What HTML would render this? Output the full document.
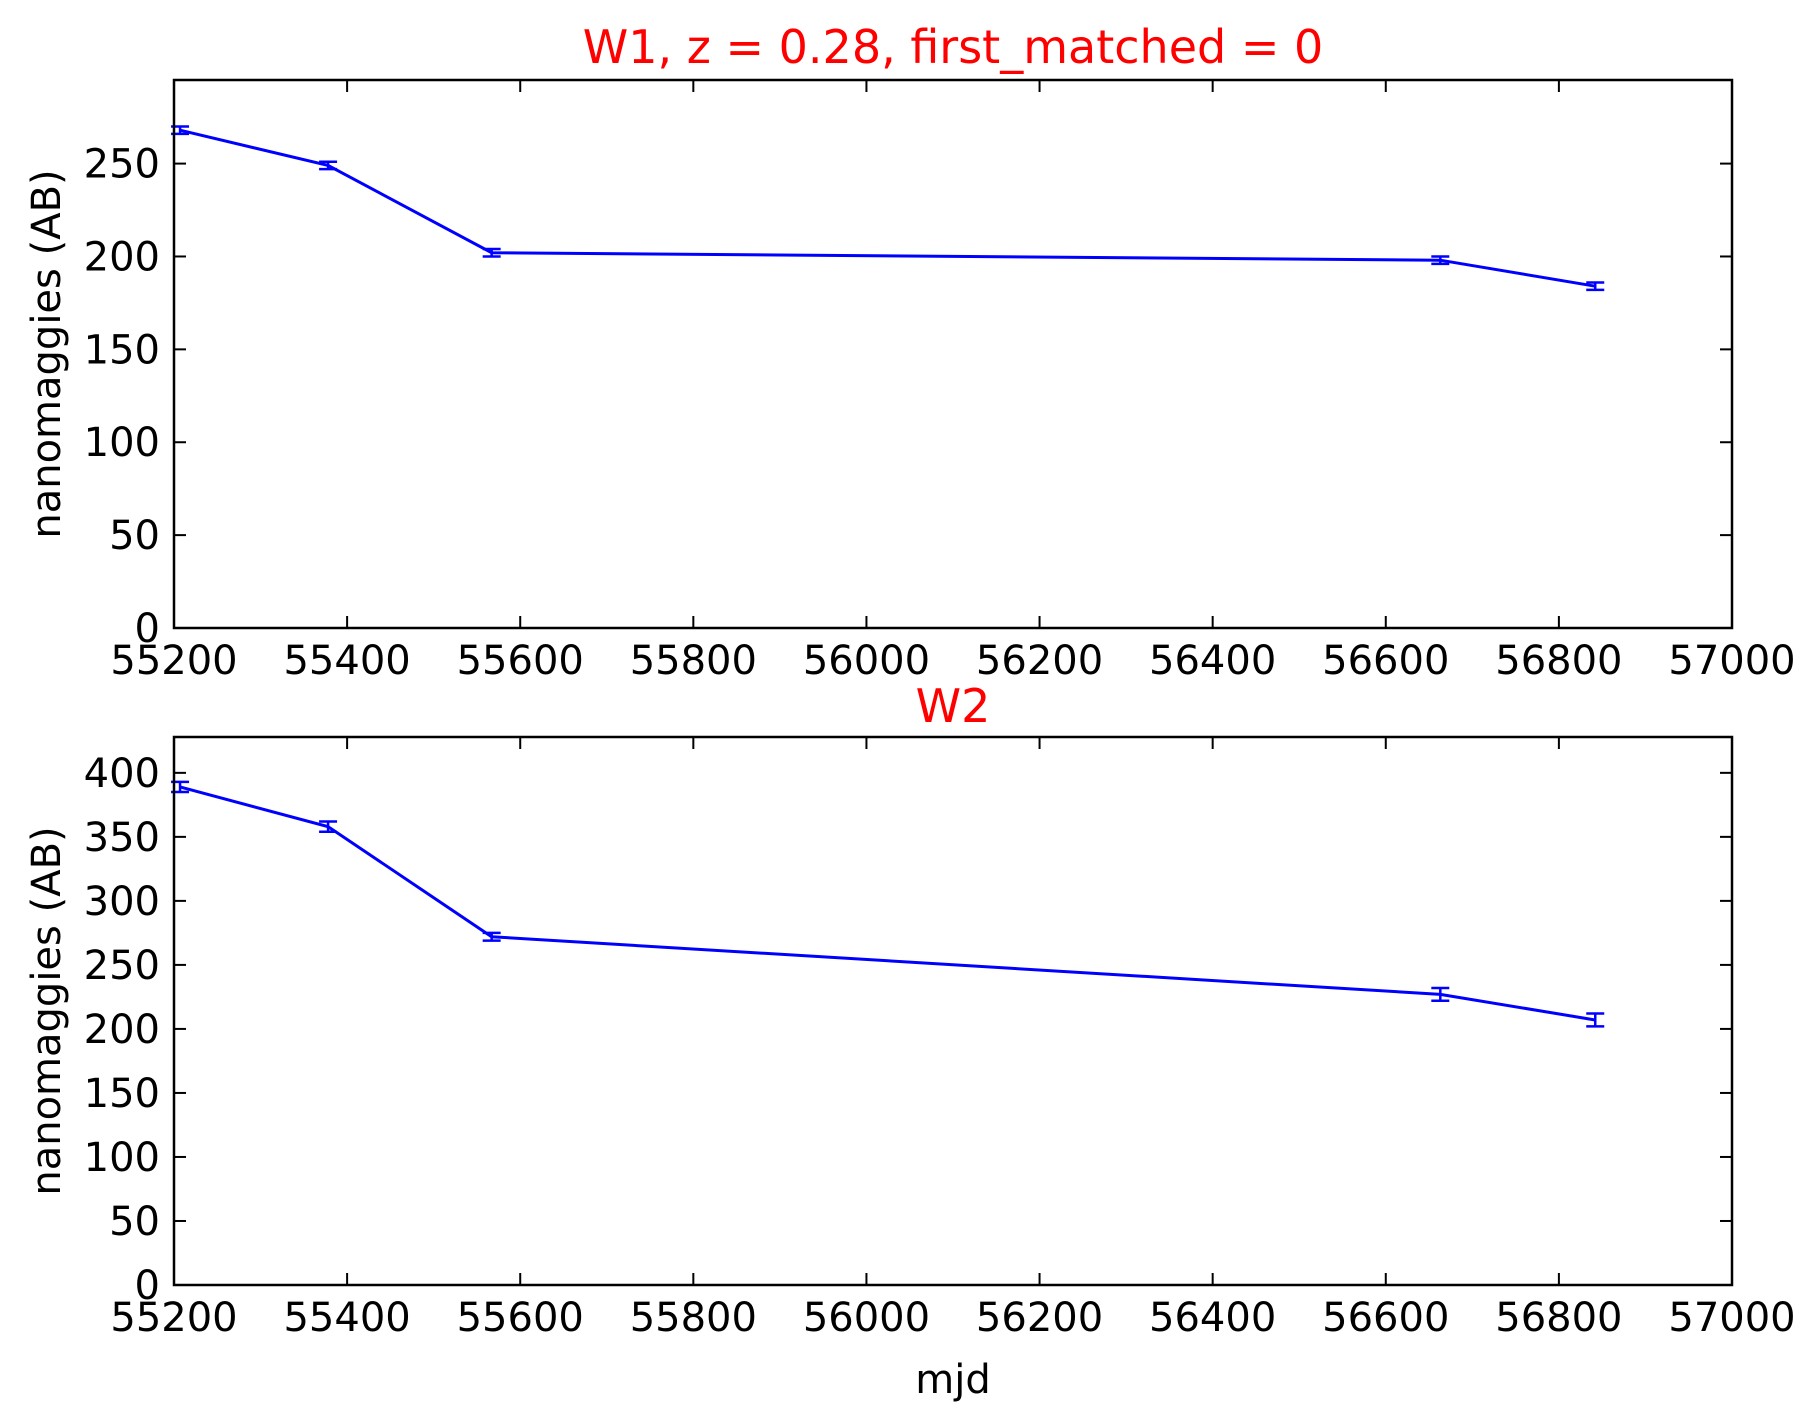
<!DOCTYPE html>
<html><head><meta charset="utf-8"><style>body{margin:0;background:#fff}svg{display:block}</style></head>
<body>
<svg id="chart" width="1811" height="1420" xmlns="http://www.w3.org/2000/svg" font-family="DejaVu Sans, Liberation Sans, sans-serif"></svg>
<script>
const xTicks = [55200,55400,55600,55800,56000,56200,56400,56600,56800,57000];
const mjd = [55207,55378,55567,56663,56842];
const w1Values = [268,249,202,198,184];
const w1Errors = [2,2,2,2,2];
const w2Values = [389,358,272,227,207];
const w2Errors = [4,4,3,5,5];
const w1Ticks = [0,50,100,150,200,250];
const w2Ticks = [0,50,100,150,200,250,300,350,400];

const NS='http://www.w3.org/2000/svg';
const svg=document.getElementById('chart');
function mk(tag,attrs,parent){const e=document.createElementNS(NS,tag);for(const k in attrs)e.setAttribute(k,attrs[k]);(parent||svg).appendChild(e);return e;}
const L=174,R=1732;
const xs=v=>L+(v-55200)/(57000-55200)*(R-L);

function panel(name,top,bottom,ymax,yt,vals,errs,title,titleY){
  const g=mk('g',{});
  
  
  const ys=v=>bottom-v/ymax*(bottom-top);
  // ticks
  yt.forEach(t=>{
    const y=ys(t);
    const l1=mk('line',{x1:L,x2:L+12,y1:y,y2:y,stroke:'#000','stroke-width':2},g);
    
    mk('line',{x1:R,x2:R-12,y1:y,y2:y,stroke:'#000','stroke-width':2},g);
    const tx=mk('text',{x:160,y:y+14,'font-size':40,'text-anchor':'end'},g);
    
    tx.textContent=t;
  });
  xTicks.forEach(t=>{
    const x=xs(t);
    mk('line',{x1:x,x2:x,y1:bottom,y2:bottom-12,stroke:'#000','stroke-width':2},g);
    mk('line',{x1:x,x2:x,y1:top,y2:top+12,stroke:'#000','stroke-width':2},g);
    const tx=mk('text',{x:x,y:bottom+46,'font-size':40,'text-anchor':'middle'},g);
    
    tx.textContent=t;
  });
  // series
  const pts=mjd.map((m,i)=>xs(m)+','+ys(vals[i])).join(' ');
  const pl=mk('polyline',{points:pts,fill:'none',stroke:'#0000ff','stroke-width':3},g);
  
  mjd.forEach((m,i)=>{
    const x=xs(m),y1=ys(vals[i]-errs[i]),y2=ys(vals[i]+errs[i]);
    const eg=mk('g',{stroke:'#0000ff','stroke-width':2.5},g);
    
    mk('line',{x1:x,x2:x,y1:y1,y2:y2},eg);
    mk('line',{x1:x-9,x2:x+9,y1:y1,y2:y1},eg);
    mk('line',{x1:x-9,x2:x+9,y1:y2,y2:y2},eg);
  });
  const fr=mk('rect',{x:L,y:top,width:R-L,height:bottom-top,fill:'none',stroke:'#000','stroke-width':2.5},g);
  
  const yl=mk('text',{x:0,y:0,'font-size':40,'text-anchor':'middle',transform:`translate(60,${(top+bottom)/2}) rotate(-90)`},g);
  
  yl.textContent='nanomaggies (AB)';
  const tt=mk('text',{x:(L+R)/2,y:titleY,'font-size':46,'text-anchor':'middle',fill:'#ff0000'},g);
  
  tt.textContent=title;
}
panel('w1',80,628,295,w1Ticks,w1Values,w1Errors,'W1, z = 0.28, first_matched = 0',63);
panel('w2',737,1285,428,w2Ticks,w2Values,w2Errors,'W2',722);
const xl=mk('text',{x:(L+R)/2,y:1393,'font-size':40,'text-anchor':'middle'});


xl.textContent='mjd';
</script>
</body></html>
